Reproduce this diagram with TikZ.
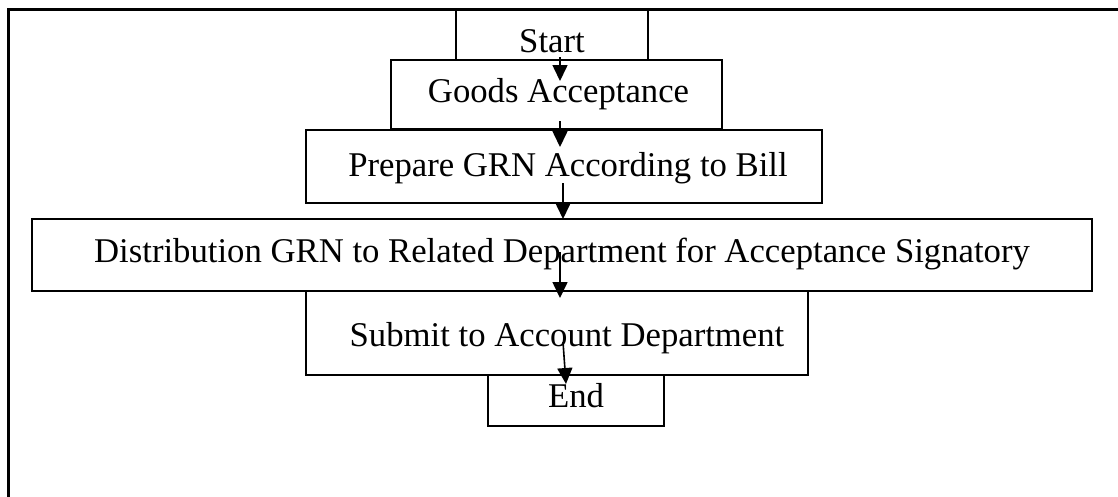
\documentclass[tikz,border=0pt]{standalone}
\usepackage{fontspec}
\setmainfont{Liberation Serif}
\usetikzlibrary{arrows.meta}
\begin{document}
\begin{tikzpicture}[x=1pt,y=-1pt,
  stepbox/.style={draw, line width=1.8pt, inner sep=0pt, anchor=base,
    font=\fontsize{34.7}{40}\selectfont},
  flow/.style={line width=1.6pt, -{Triangle[length=16pt,width=15pt]}},
  frame/.style={line width=3pt}]
\useasboundingbox (0,0) rectangle (1118,496);
% page frame: top and left rules
\draw[frame] (8,497) -- (8,9) -- (1119,9);
% process steps
\node[stepbox, minimum width=192pt, text height=43pt, text depth=8pt] (start) at (552,52) {Start};
\node[stepbox, minimum width=331pt, text height=42pt, text depth=27pt] (goods) at (556.5,102) {\hspace*{4pt}Goods Acceptance};
\node[stepbox, minimum width=516pt, text height=46pt, text depth=27pt] (grn) at (564,176) {\hspace*{8pt}Prepare GRN According to Bill};
\node[stepbox, minimum width=1060pt, text height=43pt, text depth=29pt] (dist) at (562,262) {Distribution GRN to Related Department for Acceptance Signatory};
\node[stepbox, minimum width=502pt, text height=55pt, text depth=29pt] (submit) at (557,346) {\hspace*{20pt}Submit to Account Department};
\node[stepbox, minimum width=176pt, text height=32pt, text depth=19pt] (end) at (576,407) {End};
% connector end points
\coordinate (a1) at (560,57);  \coordinate (b1) at (560,81);
\coordinate (a2) at (560,121); \coordinate (b2) at (560,147);
\coordinate (a3) at (563,183); \coordinate (b3) at (563,219);
\coordinate (a4) at (560,252); \coordinate (b4) at (560,298);
\coordinate (a5) at (563,342); \coordinate (b5) at (566,384);
\draw[flow] (a1) -- (b1);
\draw[flow] (a2) -- (b2);
\draw[flow] (a3) -- (b3);
\draw[flow] (a4) -- (b4);
\draw[flow] (a5) -- (b5);
\end{tikzpicture}
\end{document}
